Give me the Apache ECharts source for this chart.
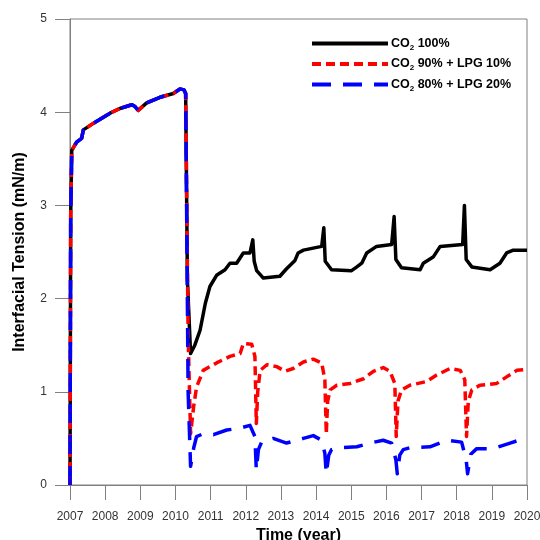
<!DOCTYPE html>
<html>
<head>
<meta charset="utf-8">
<script src="https://cdn.jsdelivr.net/npm/echarts@6/dist/echarts.min.js"></script>
<style>
  html, body { margin: 0; padding: 0; background: #fff; }
  #chart { width: 540px; height: 540px; }
</style>
</head>
<body>
<div id="chart"></div>
<script>
// Interfacial tension over time for three injection gas compositions.
// Each curve is a list of [year, IFT (mN/m)] pairs.

// Common start-up period (2007 - 2010.3), identical for all three gases
const startupCurve = [
  [2007.00, 0.00], [2007.02, 2.90], [2007.05, 3.59], [2007.19, 3.68], [2007.33, 3.72],
  [2007.38, 3.81], [2007.66, 3.88], [2008.14, 3.99], [2008.42, 4.04], [2008.76, 4.08],
  [2008.85, 4.06], [2008.94, 4.02], [2009.18, 4.10], [2009.56, 4.16], [2009.94, 4.20],
  [2010.13, 4.25], [2010.24, 4.24], [2010.29, 4.20]
];

// CO2 100%
const co2Pure = [
  [2010.34, 2.20], [2010.43, 1.41], [2010.55, 1.50], [2010.70, 1.66], [2010.85, 1.95],
  [2010.98, 2.13], [2011.17, 2.25], [2011.41, 2.31], [2011.55, 2.38], [2011.74, 2.38],
  [2011.93, 2.49], [2012.12, 2.49], [2012.20, 2.63], [2012.24, 2.40], [2012.31, 2.30],
  [2012.50, 2.22], [2012.97, 2.24], [2013.16, 2.32], [2013.40, 2.41], [2013.49, 2.49],
  [2013.64, 2.52], [2014.16, 2.56], [2014.22, 2.76], [2014.26, 2.40], [2014.44, 2.31],
  [2015.01, 2.30], [2015.16, 2.34], [2015.30, 2.38], [2015.44, 2.49], [2015.72, 2.56],
  [2016.15, 2.58], [2016.22, 2.88], [2016.27, 2.42], [2016.43, 2.33], [2016.96, 2.31],
  [2017.05, 2.38], [2017.34, 2.45], [2017.53, 2.56], [2018.17, 2.58], [2018.22, 3.00],
  [2018.27, 2.42], [2018.43, 2.34], [2018.95, 2.31], [2019.23, 2.38], [2019.42, 2.49],
  [2019.61, 2.52], [2020.00, 2.52]
];

// CO2 90% + LPG 10%
const co2Lpg10 = [
  [2010.36, 1.60], [2010.43, 0.55], [2010.52, 0.85], [2010.60, 1.05], [2010.79, 1.23],
  [2011.17, 1.31], [2011.55, 1.38], [2011.84, 1.41], [2011.93, 1.52], [2012.17, 1.51],
  [2012.26, 1.38], [2012.30, 0.66], [2012.34, 1.00], [2012.41, 1.23], [2012.60, 1.29],
  [2012.88, 1.27], [2013.12, 1.22], [2013.35, 1.25], [2013.64, 1.32], [2013.92, 1.35],
  [2014.16, 1.31], [2014.25, 1.13], [2014.29, 0.55], [2014.33, 0.90], [2014.40, 1.02],
  [2014.59, 1.07], [2014.97, 1.09], [2015.35, 1.14], [2015.63, 1.22], [2015.91, 1.26],
  [2016.10, 1.22], [2016.24, 1.09], [2016.28, 0.52], [2016.33, 0.90], [2016.43, 1.02],
  [2016.67, 1.07], [2017.14, 1.11], [2017.43, 1.18], [2017.81, 1.25], [2018.10, 1.23],
  [2018.23, 1.13], [2018.28, 0.52], [2018.33, 0.90], [2018.43, 1.02], [2018.66, 1.07],
  [2019.14, 1.09], [2019.42, 1.16], [2019.71, 1.23], [2020.00, 1.24]
];

// CO2 80% + LPG 20%
const co2Lpg20 = [
  [2010.36, 1.00], [2010.43, 0.20], [2010.52, 0.40], [2010.60, 0.52], [2010.79, 0.55],
  [2011.08, 0.54], [2011.46, 0.59], [2011.84, 0.61], [2012.12, 0.64], [2012.26, 0.52],
  [2012.30, 0.16], [2012.36, 0.38], [2012.45, 0.46], [2012.78, 0.50], [2013.16, 0.45],
  [2013.64, 0.50], [2013.92, 0.53], [2014.16, 0.48], [2014.25, 0.34], [2014.29, 0.12],
  [2014.36, 0.32], [2014.44, 0.38], [2014.68, 0.40], [2015.16, 0.41], [2015.53, 0.45],
  [2015.91, 0.48], [2016.15, 0.45], [2016.27, 0.27], [2016.31, 0.12], [2016.38, 0.32],
  [2016.48, 0.38], [2016.67, 0.40], [2017.24, 0.41], [2017.72, 0.48], [2018.14, 0.46],
  [2018.27, 0.27], [2018.31, 0.12], [2018.40, 0.33], [2018.57, 0.39], [2019.04, 0.39],
  [2019.52, 0.45], [2019.85, 0.49], [2020.00, 0.51]
];

const seriesNames = ['CO2 100%', 'CO2 90% + LPG 10%', 'CO2 80% + LPG 20%'];
const seriesColors = ['#000000', '#ff0000', '#0000ff'];
const yearTicks = { min: 2007, max: 2020, step: 1 };
const tensionTicks = { min: 0, max: 5, step: 1 };

const legendLabels = {
  'CO2 100%': '{b|CO}{s|2}{b| 100%}',
  'CO2 90% + LPG 10%': '{b|CO}{s|2}{b| 90% + LPG 10%}',
  'CO2 80% + LPG 20%': '{b|CO}{s|2}{b| 80% + LPG 20%}'
};

const chart = echarts.init(document.getElementById('chart'), null, { renderer: 'canvas' });

const lineStyles = [
  { width: 3.5, type: 'solid' },
  { width: 3.5, type: [9, 5] },
  { width: 3.5, type: [19, 12] }
];

const curves = [startupCurve.concat(co2Pure), startupCurve.concat(co2Lpg10), startupCurve.concat(co2Lpg20)];

chart.setOption({
  animation: false,
  backgroundColor: '#ffffff',
  grid: {
    left: 70, right: 13, top: 19, bottom: 55,
    outerBoundsMode: 'none',
    containLabel: false,
    show: true, borderColor: '#808080', borderWidth: 1
  },
  legend: {
    orient: 'vertical',
    left: 310, top: 37, padding: 0,
    itemWidth: 76, itemHeight: 14, itemGap: 6,
    data: seriesNames,
    itemStyle: { opacity: 0 },
    lineStyle: { width: 4 },
    formatter: name => legendLabels[name],
    textStyle: {
      padding: [0, 0, 0, -2],
      rich: {
        b: { fontFamily: 'Liberation Sans', fontWeight: 'bold', fontSize: 12.5, color: '#000' },
        s: { fontFamily: 'Liberation Sans', fontWeight: 'bold', fontSize: 8, color: '#000', padding: [8, 0, 0, 0] }
      }
    }
  },
  xAxis: {
    type: 'value',
    min: yearTicks.min, max: yearTicks.max, interval: yearTicks.step,
    name: 'Time (year)',
    nameLocation: 'middle', nameGap: 38,
    nameTextStyle: { fontFamily: 'Liberation Sans', fontWeight: 'bold', fontSize: 16, color: '#000' },
    axisLine: { lineStyle: { color: '#808080', width: 1 } },
    axisTick: { inside: false, length: 15, lineStyle: { color: '#808080' } },
    axisLabel: { margin: 26, fontFamily: 'Liberation Sans', fontSize: 12, color: '#333', formatter: v => String(v) },
    splitLine: { show: false }
  },
  yAxis: {
    type: 'value',
    min: tensionTicks.min, max: tensionTicks.max, interval: tensionTicks.step,
    name: 'Interfacial Tension (mN/m)',
    nameLocation: 'middle', nameGap: 42,
    nameTextStyle: { fontFamily: 'Liberation Sans', fontWeight: 'bold', fontSize: 16, color: '#000' },
    axisLine: { show: true, lineStyle: { color: '#808080', width: 1 } },
    axisTick: { show: true, inside: false, length: 15, lineStyle: { color: '#808080' } },
    axisLabel: { margin: 23, fontFamily: 'Liberation Sans', fontSize: 12, color: '#333' },
    splitLine: { show: false }
  },
  series: seriesNames.map((name, i) => ({
    name: name,
    type: 'line',
    data: curves[i],
    symbol: 'none',
    color: seriesColors[i],
    lineStyle: Object.assign({ color: seriesColors[i], cap: 'butt', join: 'round' }, lineStyles[i]),
    z: 2 + i
  }))
});
</script>
</body>
</html>
